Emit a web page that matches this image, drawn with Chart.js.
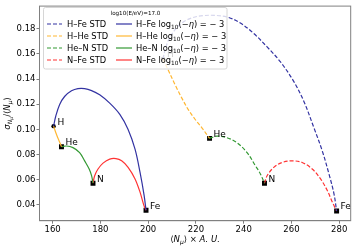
<!DOCTYPE html>
<html lang="en">
<head>
  <meta charset="UTF-8" />
  <title>Nmu fluctuation vs mean</title>
  <script src="https://cdn.jsdelivr.net/npm/chart.js"></script>
  <style>
    body { margin: 0; background: #fff; }
    canvas { display: block; }
  </style>
</head>
<body>
  <canvas id="chart" width="357" height="249"></canvas>

  <script>
    // values
    const elements = ['H', 'He', 'N', 'Fe'];
    const pairNames = ['H–Fe', 'H–He', 'He–N', 'N–Fe'];
    const legendTitle = 'log10(E/eV)=17.0';
    const xTicks = [160, 180, 200, 220, 240, 260, 280];
    const yTicks = [0.04, 0.06, 0.08, 0.10, 0.12, 0.14, 0.16, 0.18];

    // pure-element points
    const logPtsX = [160.4, 163.7, 176.9, 199.1];
    const logPtsY = [0.1025, 0.0862, 0.0571, 0.0356];
    const stdPtsX = [206.2, 225.7, 248.7, 278.9];
    const stdPtsY = [0.1560, 0.0928, 0.0571, 0.0350];

    // mixing curves, log10(-eta) = -3
    const hFeLogX = [160.4, 161.3, 162.9, 165.0, 167.9, 170.6, 173.4, 176.3, 179.7, 183.9, 188.2, 191.6, 194.5, 196.6, 198.3, 199.1];
    const hFeLogY = [0.1025, 0.1104, 0.1196, 0.1261, 0.1306, 0.1324, 0.1324, 0.1308, 0.1274, 0.1208, 0.1117, 0.0999, 0.0842, 0.0657, 0.0474, 0.0356];
    const hHeLogX = [160.4, 161.7, 162.9, 163.7];
    const hHeLogY = [0.1025, 0.0954, 0.0899, 0.0862];
    const heNLogX = [163.7, 165.8, 168.5, 171.3, 173.4, 175.3, 176.3, 176.9];
    const heNLogY = [0.0862, 0.0867, 0.0854, 0.0815, 0.0749, 0.0684, 0.0631, 0.0571];
    const nFeLogX = [176.9, 177.6, 179.0, 181.1, 183.9, 186.5, 188.9, 191.6, 194.5, 196.6, 198.2, 199.1];
    const nFeLogY = [0.0571, 0.0631, 0.0684, 0.0731, 0.0763, 0.0767, 0.0749, 0.0697, 0.0605, 0.0500, 0.0395, 0.0356];

    // mixing curves, STD
    const hFeStdX = [206.2, 207.3, 208.7, 211.1, 214.2, 218.4, 223.0, 228.1, 233.5, 238.6, 244.2, 249.8, 255.4, 261.0, 265.2, 269.4, 272.9, 275.7, 277.8, 278.9];
    const hFeStdY = [0.1560, 0.1647, 0.1717, 0.1788, 0.1847, 0.1887, 0.1904, 0.1906, 0.1891, 0.1845, 0.1762, 0.1655, 0.1536, 0.1379, 0.1222, 0.1012, 0.0828, 0.0645, 0.0487, 0.0350];
    const hHeStdX = [206.2, 208.4, 211.3, 214.1, 216.8, 219.7, 222.5, 225.7];
    const hHeStdY = [0.1560, 0.1471, 0.1353, 0.1248, 0.1156, 0.1078, 0.1012, 0.0928];
    const heNStdX = [225.7, 228.8, 233.0, 237.2, 241.4, 244.9, 247.0, 248.7];
    const heNStdY = [0.0928, 0.0946, 0.0933, 0.0893, 0.0815, 0.0710, 0.0645, 0.0571];
    const nFeStdX = [248.7, 249.8, 252.6, 256.1, 260.3, 264.5, 268.7, 272.2, 275.0, 277.1, 278.9];
    const nFeStdY = [0.0571, 0.0631, 0.0697, 0.0736, 0.0749, 0.0736, 0.0684, 0.0605, 0.0513, 0.0421, 0.0350];

    const colors = ['#3333a2', '#ffb733', '#339933', '#ff3333'];
    const FONT = "'DejaVu Sans', sans-serif";
    const DASH = [4, 2];

    const zip = (xs, ys) => xs.map((x, i) => ({ x: x, y: ys[i] }));

    const stdCurves = [[hFeStdX, hFeStdY], [hHeStdX, hHeStdY], [heNStdX, heNStdY], [nFeStdX, nFeStdY]];
    const logCurves = [[hFeLogX, hFeLogY], [hHeLogX, hHeLogY], [heNLogX, heNLogY], [nFeLogX, nFeLogY]];

    const datasets = [];
    stdCurves.forEach((c, i) => datasets.push({
      label: pairNames[i] + ' STD', data: zip(c[0], c[1]), showLine: true,
      borderColor: colors[i], borderWidth: 1.2, borderDash: DASH, pointRadius: 0, tension: 0.35
    }));
    logCurves.forEach((c, i) => datasets.push({
      label: pairNames[i] + ' log10(-eta) = -3', data: zip(c[0], c[1]), showLine: true,
      borderColor: colors[i], borderWidth: 1.2, pointRadius: 0, tension: 0.35
    }));
    const markerStyles = elements.map(e => e === 'H' ? 'circle' : 'rect');
    const markerRadius = elements.map(e => e === 'H' ? 2.2 : 3.5);
    datasets.push({ label: 'log pts', data: zip(logPtsX, logPtsY), pointStyle: markerStyles,
      pointRadius: markerRadius, backgroundColor: '#000', borderColor: '#000', borderWidth: 0 });
    datasets.push({ label: 'std pts', data: zip(stdPtsX, stdPtsY), pointStyle: markerStyles,
      pointRadius: markerRadius, backgroundColor: '#000', borderColor: '#000', borderWidth: 0 });

    // draw a run of text pieces (for sub/superscripts and italics)
    function rich(ctx, parts, x, y, align) {
      let w = 0;
      parts.forEach(p => {
        ctx.font = (p.it ? 'italic ' : '') + p.s + 'px ' + FONT;
        p.w = ctx.measureText(p.t).width;
        w += p.w;
      });
      let cx = align === 'center' ? x - w / 2 : x;
      ctx.textAlign = 'left';
      ctx.textBaseline = 'alphabetic';
      parts.forEach(p => {
        ctx.font = (p.it ? 'italic ' : '') + p.s + 'px ' + FONT;
        ctx.fillText(p.t, cx, y + (p.dy || 0));
        cx += p.w;
      });
    }

    const overlay = {
      id: 'overlay',
      afterDatasetsDraw(chart) {
        const ctx = chart.ctx, xs = chart.scales.x, ys = chart.scales.y;
        ctx.save();
        ctx.fillStyle = '#000';
        ctx.font = '9px ' + FONT;
        ctx.textBaseline = 'middle';
        ctx.textAlign = 'left';
        [[logPtsX, logPtsY], [stdPtsX, stdPtsY]].forEach(pts => {
          elements.forEach((e, i) => {
            ctx.fillText(e, xs.getPixelForValue(pts[0][i]) + 4, ys.getPixelForValue(pts[1][i]) - 4);
          });
        });

        // legend box
        ctx.beginPath();
        ctx.roundRect(43.5, 7.5, 183.5, 61.5, 2);
        ctx.fillStyle = 'rgba(255,255,255,0.8)';
        ctx.fill();
        ctx.strokeStyle = '#d6d6d6';
        ctx.lineWidth = 1;
        ctx.stroke();

        ctx.fillStyle = '#000';
        ctx.font = '5.6px ' + FONT;
        ctx.textAlign = 'center';
        ctx.textBaseline = 'middle';
        ctx.fillText(legendTitle, 135.5, 13.5);

        const rowY = [24, 36, 48, 60];
        pairNames.forEach((name, i) => {
          const y = rowY[i];
          ctx.strokeStyle = colors[i];
          ctx.lineWidth = 1.2;
          ctx.setLineDash(DASH);
          ctx.beginPath(); ctx.moveTo(47, y); ctx.lineTo(62, y); ctx.stroke();
          ctx.setLineDash([]);
          ctx.beginPath(); ctx.moveTo(116, y); ctx.lineTo(132, y); ctx.stroke();
          ctx.fillStyle = '#000';
          rich(ctx, [{ t: name + ' STD', s: 8.3 }], 67, y + 3, 'left');
          rich(ctx, [
            { t: name + ' log', s: 8.3 },
            { t: '10', s: 5.8, dy: 2.2 },
            { t: '(−', s: 8.3 },
            { t: 'η', s: 8.3, it: true },
            { t: ') = − 3', s: 8.3 }
          ], 136, y + 3, 'left');
        });
        ctx.restore();
      },
      afterDraw(chart) {
        const ctx = chart.ctx, a = chart.chartArea;
        ctx.save();
        ctx.strokeStyle = '#808080';
        ctx.lineWidth = 1;
        ctx.strokeRect(a.left, a.top, a.right - a.left, a.bottom - a.top);
        ctx.fillStyle = '#000';
        rich(ctx, [
          { t: '⟨', s: 8.5 }, { t: 'N', s: 8.5, it: true }, { t: 'μ', s: 6, it: true, dy: 2 },
          { t: '⟩ × ', s: 8.5 }, { t: 'A. U.', s: 8.5, it: true }
        ], (a.left + a.right) / 2, 242, 'center');
        ctx.translate(9.5, (a.top + a.bottom) / 2);
        ctx.rotate(-Math.PI / 2);
        rich(ctx, [
          { t: 'σ', s: 8.5, it: true }, { t: 'N', s: 6, it: true, dy: 2 }, { t: 'μ', s: 4.6, it: true, dy: 3.4 },
          { t: '/⟨', s: 8.5 }, { t: 'N', s: 8.5, it: true }, { t: 'μ', s: 6, it: true, dy: 2 }, { t: '⟩', s: 8.5 }
        ], 0, 0, 'center');
        ctx.restore();
      }
    };

    new Chart(document.getElementById('chart'), {
      type: 'scatter',
      data: { datasets: datasets },
      plugins: [overlay],
      options: {
        responsive: false,
        animation: false,
        layout: { padding: { top: 3.3, right: 6.3, left: 0, bottom: 0 } },
        plugins: { legend: { display: false }, tooltip: { enabled: false } },
        scales: {
          x: {
            type: 'linear', min: 154.5, max: 284.8,
            afterBuildTicks: s => { s.ticks = xTicks.map(v => ({ value: v })); },
            afterFit: s => { s.height = 28.3; },
            ticks: { font: { family: FONT, size: 8.5 }, color: '#000', padding: 1, maxRotation: 0 },
            grid: { drawOnChartArea: false, tickLength: 3, color: '#808080' },
            border: { color: '#808080' }
          },
          y: {
            type: 'linear', min: 0.0273, max: 0.198,
            afterBuildTicks: s => { s.ticks = yTicks.map(v => ({ value: v })); },
            afterFit: s => { s.width = 39.5; },
            ticks: { font: { family: FONT, size: 8.5 }, color: '#000', padding: 1, callback: v => v.toFixed(2) },
            grid: { drawOnChartArea: false, tickLength: 3, color: '#808080' },
            border: { color: '#808080' }
          }
        }
      }
    });
  </script>
</body>
</html>
